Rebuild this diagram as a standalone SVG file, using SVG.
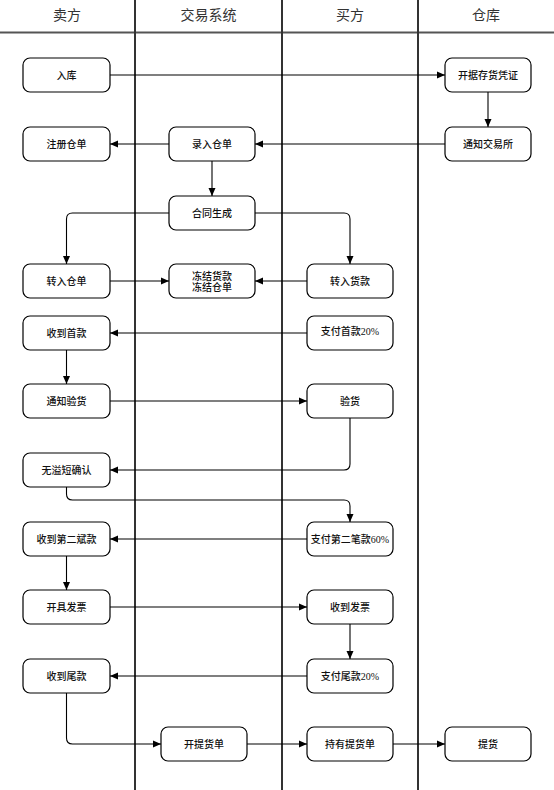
<svg xmlns="http://www.w3.org/2000/svg" width="554" height="790" viewBox="0 0 554 790">
<defs>
<marker id="arr" markerUnits="userSpaceOnUse" markerWidth="8" markerHeight="8" refX="8" refY="4" orient="auto">
<path d="M0,0.5 L8,4 L0,7.5 z" fill="#000"/>
</marker>
<style>
.lane{stroke:#333;stroke-width:2;fill:none}
.hdr{stroke:#555;stroke-width:2;fill:none}
.ht{font-family:"Liberation Serif","Noto Sans CJK SC",serif;font-size:14px;fill:#333;text-anchor:middle}
.box{fill:#fff;stroke:#000;stroke-width:1.2}
.t{font-family:"Liberation Serif","Noto Sans CJK SC",serif;font-size:10px;fill:#111;text-anchor:middle;font-weight:500}
.c{fill:none;stroke:#000;stroke-width:1.1;marker-end:url(#arr)}
</style>
</defs>
<rect width="554" height="790" fill="#fff"/>
<g id="lanes">
<line class="hdr" x1="0" y1="32.5" x2="554" y2="32.5"/>
<line class="lane" x1="135" y1="0" x2="135" y2="790"/>
<line class="lane" x1="282" y1="0" x2="282" y2="790"/>
<line class="lane" x1="418" y1="0" x2="418" y2="790"/>
<text class="ht" x="67" y="20">卖方</text>
<text class="ht" x="208.5" y="20">交易系统</text>
<text class="ht" x="350" y="20">买方</text>
<text class="ht" x="486" y="20">仓库</text>
</g>
<g id="connectors">
<path class="c" d="M110,75 H445"/>
<path class="c" d="M488,92 V127"/>
<path class="c" d="M445,144 H255"/>
<path class="c" d="M169,144 H110"/>
<path class="c" d="M212,161 V196"/>
<path class="c" d="M169,213 H72.5 Q66.5,213 66.5,219 V264"/>
<path class="c" d="M255,213 H344 Q350,213 350,219 V264"/>
<path class="c" d="M110,281 H169"/>
<path class="c" d="M307,281 H255"/>
<path class="c" d="M307,333 H110"/>
<path class="c" d="M66.5,350 V384"/>
<path class="c" d="M110,401 H307"/>
<path class="c" d="M350,418 V464 Q350,470 344,470 H110"/>
<path class="c" d="M66.5,487 V494 Q66.5,500 72.5,500 H344 Q350,500 350,506 V522"/>
<path class="c" d="M307,539 H110"/>
<path class="c" d="M66.5,556 V590"/>
<path class="c" d="M110,607 H307"/>
<path class="c" d="M350,624 V659"/>
<path class="c" d="M307,676 H110"/>
<path class="c" d="M66.5,693 V738 Q66.5,744 72.5,744 H161"/>
<path class="c" d="M247,744 H307"/>
<path class="c" d="M393,744 H445"/>
</g>
<g id="n-ruku"><rect class="box" x="23" y="58" width="87" height="34" rx="7"/><text class="t" x="66.5" y="79">入库</text></g>
<g id="n-kaiju"><rect class="box" x="445" y="58" width="86" height="34" rx="7"/><text class="t" x="488" y="79">开据存货凭证</text></g>
<g id="n-zhuce"><rect class="box" x="23" y="127" width="87" height="34" rx="7"/><text class="t" x="66.5" y="148">注册仓单</text></g>
<g id="n-luru"><rect class="box" x="169" y="127" width="86" height="34" rx="7"/><text class="t" x="212" y="148">录入仓单</text></g>
<g id="n-tongzhi"><rect class="box" x="445" y="127" width="86" height="34" rx="7"/><text class="t" x="488" y="148">通知交易所</text></g>
<g id="n-hetong"><rect class="box" x="169" y="196" width="86" height="34" rx="7"/><text class="t" x="212" y="217">合同生成</text></g>
<g id="n-zhuanrucd"><rect class="box" x="23" y="264" width="87" height="34" rx="7"/><text class="t" x="66.5" y="285">转入仓单</text></g>
<g id="n-dongjie"><rect class="box" x="169" y="264" width="86" height="34" rx="7"/><text class="t" x="212" y="279.5">冻结货款</text><text class="t" x="212" y="290.5">冻结仓单</text></g>
<g id="n-zhuanruhk"><rect class="box" x="307" y="264" width="86" height="34" rx="7"/><text class="t" x="350" y="285">转入货款</text></g>
<g id="n-shoukuan1"><rect class="box" x="23" y="316" width="87" height="34" rx="7"/><text class="t" x="66.5" y="337">收到首款</text></g>
<g id="n-zhifu1"><rect class="box" x="307" y="316" width="86" height="34" rx="7"/><text class="t" x="350" y="335">支付首款20%</text></g>
<g id="n-tzyanhuo"><rect class="box" x="23" y="384" width="87" height="34" rx="7"/><text class="t" x="66.5" y="405">通知验货</text></g>
<g id="n-yanhuo"><rect class="box" x="307" y="384" width="86" height="34" rx="7"/><text class="t" x="350" y="405">验货</text></g>
<g id="n-wuyiduan"><rect class="box" x="23" y="453" width="87" height="34" rx="7"/><text class="t" x="66.5" y="474">无溢短确认</text></g>
<g id="n-shoukuan2"><rect class="box" x="23" y="522" width="87" height="34" rx="7"/><text class="t" x="66.5" y="543">收到第二斌款</text></g>
<g id="n-zhifu2"><rect class="box" x="307" y="522" width="86" height="34" rx="7"/><text class="t" x="350" y="543">支付第二笔款60%</text></g>
<g id="n-kaifp"><rect class="box" x="23" y="590" width="87" height="34" rx="7"/><text class="t" x="66.5" y="611">开具发票</text></g>
<g id="n-shoufp"><rect class="box" x="307" y="590" width="86" height="34" rx="7"/><text class="t" x="350" y="611">收到发票</text></g>
<g id="n-shouwk"><rect class="box" x="23" y="659" width="87" height="34" rx="7"/><text class="t" x="66.5" y="680">收到尾款</text></g>
<g id="n-zhifuwk"><rect class="box" x="307" y="659" width="86" height="34" rx="7"/><text class="t" x="350" y="680">支付尾款20%</text></g>
<g id="n-kaitihuo"><rect class="box" x="161" y="727" width="86" height="34" rx="7"/><text class="t" x="204" y="748">开提货单</text></g>
<g id="n-chiyou"><rect class="box" x="307" y="727" width="86" height="34" rx="7"/><text class="t" x="350" y="748">持有提货单</text></g>
<g id="n-tihuo"><rect class="box" x="445" y="727" width="86" height="34" rx="7"/><text class="t" x="488" y="748">提货</text></g>
</svg>
